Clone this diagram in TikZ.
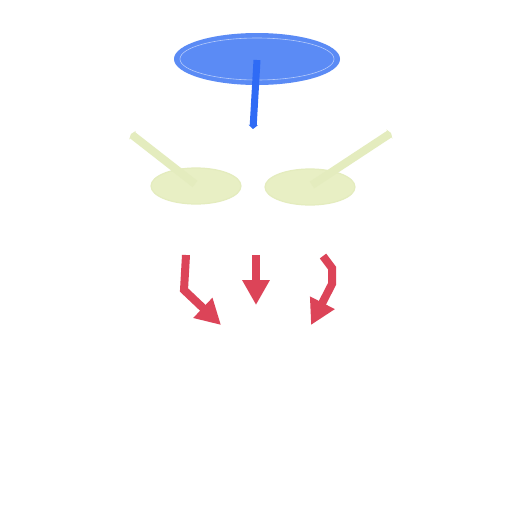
\documentclass[tikz,border=0pt]{standalone}
\usetikzlibrary{arrows.meta,shapes.geometric}
\definecolor{topblue}{HTML}{5B8BF5}
\definecolor{lineblue}{HTML}{2F6BF5}
\definecolor{paleyg}{HTML}{E8EFC4}
\definecolor{armyg}{HTML}{E4ECBE}
\definecolor{redarr}{HTML}{DC4458}
\tikzset{
  x=1pt,y=-1pt,
  topell/.style={ellipse,fill=topblue,minimum width=166pt,minimum height=52pt,inner sep=0pt},
  yell/.style={ellipse,fill=paleyg,draw=armyg,line width=1.2pt,minimum width=90pt,minimum height=36pt,inner sep=0pt},
  bluearr/.style={draw=lineblue,line width=7pt,-{Triangle[width=9pt,length=4pt]}},
  yarr/.style={draw=armyg,line width=8pt,-{Triangle[width=11pt,length=2pt]}},
  redarrow/.style={draw=redarr,line width=8pt,-{Triangle[width=26pt,length=25pt]}},
}
\begin{document}
\begin{tikzpicture}
\useasboundingbox (0,0) rectangle (512,512);
\fill[white] (0,0) rectangle (512,512);
\node[topell] (top) at (257,59) {};
\draw[white,opacity=0.55,line width=0.6pt] (257,59) ellipse [x radius=77pt,y radius=21pt];
\node[yell] (yl) at (196,186) {};
\node[yell] (yr) at (310,187) {};
\coordinate (bend) at (253,129);
\coordinate (ylend) at (131,134);
\coordinate (yrend) at (391,133);
\draw[bluearr] (257,60) -- (bend);
\draw[yarr] (195,184) -- (ylend);
\draw[yarr] (312,185) -- (yrend);
\coordinate (l0) at (186,255);
\coordinate (l1) at (184,290);
\coordinate (lt) at (221,325);
\coordinate (m0) at (256,255);
\coordinate (mt) at (256,305);
\coordinate (r0) at (323,256);
\coordinate (r1) at (332,268);
\coordinate (r2) at (332,284);
\coordinate (rt) at (311,325);
\draw[redarrow] (l0) -- (l1) -- (lt);
\draw[redarrow] (m0) -- (mt);
\draw[redarrow] (r0) -- (r1) -- (r2) -- (rt);
\end{tikzpicture}
\end{document}
